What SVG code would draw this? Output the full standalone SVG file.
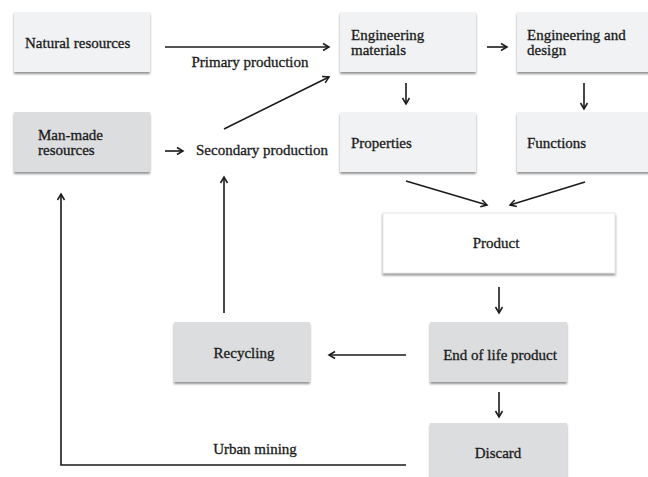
<svg xmlns="http://www.w3.org/2000/svg" width="648" height="477" viewBox="0 0 648 477">
<defs>
<filter id="sh" x="-5%" y="-10%" width="110%" height="130%">
<feDropShadow dx="0" dy="2" stdDeviation="1" flood-color="#777" flood-opacity="0.8"/>
</filter>
<marker id="ah" markerWidth="10" markerHeight="10" refX="8" refY="5" orient="auto" markerUnits="userSpaceOnUse">
<path d="M2,1.5 L8,5 L2,8.5" fill="none" stroke="#1a1a1a" stroke-width="1.5"/>
</marker>
</defs>
<style>
.lt{fill:#f1f2f3}
.dk{fill:#dcdddf}
.wh{fill:#ffffff;stroke:#e8e8e8;stroke-width:1}
text{font-family:"Liberation Serif","Times New Roman",serif;font-size:15px;fill:#1a1a1a;stroke:#1a1a1a;stroke-width:0.3}
.c{text-anchor:middle}
.ln{stroke:#1a1a1a;stroke-width:1.6;fill:none}
.ar{stroke:#1a1a1a;stroke-width:1.6;fill:none;marker-end:url(#ah)}
</style>
<rect width="648" height="477" fill="#ffffff"/>

<g id="natural">
<rect x="14" y="12" width="136" height="60" class="lt" filter="url(#sh)"/>
<text x="25" y="48">Natural resources</text>
</g>
<g id="manmade">
<rect x="14" y="112" width="136" height="60" class="dk" filter="url(#sh)"/>
<text x="38" y="140">Man-made</text>
<text x="38" y="155">resources</text>
</g>
<g id="engmat">
<rect x="340" y="12" width="136" height="60" class="lt" filter="url(#sh)"/>
<text x="351" y="40">Engineering</text>
<text x="351" y="55">materials</text>
</g>
<g id="engdesign">
<rect x="517" y="12" width="136" height="60" class="lt" filter="url(#sh)"/>
<text x="527" y="40">Engineering and</text>
<text x="527" y="55">design</text>
</g>
<g id="properties">
<rect x="340" y="112" width="136" height="60" class="lt" filter="url(#sh)"/>
<text x="351" y="148">Properties</text>
</g>
<g id="functions">
<rect x="517" y="112" width="136" height="60" class="lt" filter="url(#sh)"/>
<text x="527" y="148">Functions</text>
</g>
<g id="product">
<rect x="383" y="213" width="232" height="60" class="wh" filter="url(#sh)"/>
<text x="496" y="248" class="c">Product</text>
</g>
<g id="eol">
<rect x="430" y="322" width="137" height="60" class="dk" filter="url(#sh)"/>
<text x="500" y="360" class="c">End of life product</text>
</g>
<g id="recycling">
<rect x="174" y="322" width="136" height="60" class="dk" filter="url(#sh)"/>
<text x="244" y="358" class="c">Recycling</text>
</g>
<g id="discard">
<rect x="430" y="423" width="137" height="60" class="dk" filter="url(#sh)"/>
<text x="498" y="458" class="c">Discard</text>
</g>

<g id="labels">
<text x="250" y="67" class="c">Primary production</text>
<text x="262" y="155" class="c">Secondary production</text>
<text x="255" y="454" class="c">Urban mining</text>
</g>

<g id="connectors">
<line x1="165" y1="47" x2="329" y2="47" class="ar"/>
<line x1="165" y1="151" x2="183" y2="151" class="ar"/>
<line x1="224" y1="129" x2="329" y2="77" class="ar"/>
<line x1="224" y1="313" x2="224" y2="177" class="ar"/>
<polyline points="406,465 61,465 61,194" class="ar"/>
<line x1="487" y1="47" x2="507" y2="47" class="ar"/>
<line x1="406" y1="83" x2="406" y2="104" class="ar"/>
<line x1="584" y1="83" x2="584" y2="109" class="ar"/>
<line x1="406" y1="181" x2="487" y2="205" class="ar"/>
<line x1="585" y1="182" x2="510" y2="205" class="ar"/>
<line x1="499" y1="287" x2="499" y2="313" class="ar"/>
<line x1="406" y1="355" x2="329" y2="355" class="ar"/>
<line x1="499" y1="392" x2="499" y2="417" class="ar"/>
</g>
</svg>
